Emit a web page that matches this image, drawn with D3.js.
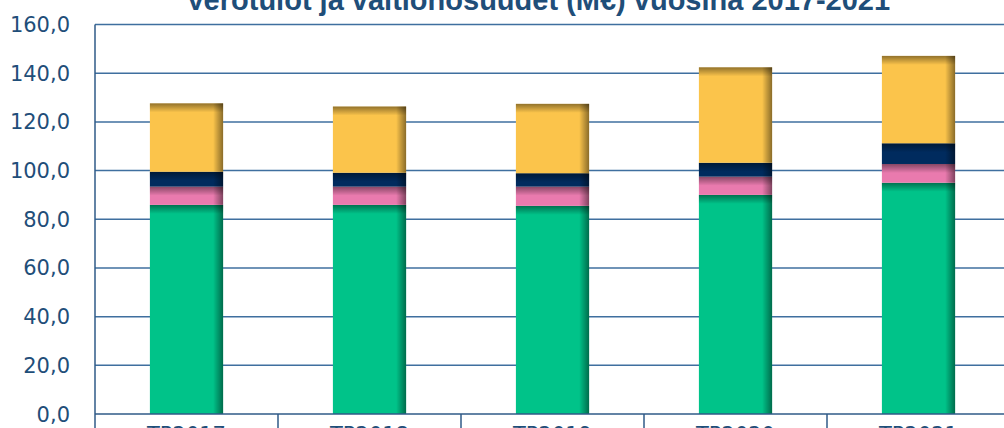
<!DOCTYPE html>
<html>
<head>
<meta charset="utf-8">
<script src="https://cdn.jsdelivr.net/npm/d3@7"></script>
<style>
  body { margin: 0; background: #fff; }
  svg { display: block; }
</style>
</head>
<body>
<div id="chart"></div>
<script>
// data
var years    = ["TP2017", "TP2018", "TP2019", "TP2020", "TP2021"];
var keys     = ["kunnallisvero", "yhteisovero", "kiinteistovero", "valtionosuudet"];
var kunnallisvero  = [85.9, 85.9, 85.5, 90.0, 95.0];
var yhteisovero    = [7.5, 7.5, 7.9, 7.5, 7.7];
var kiinteistovero = [6.1, 5.7, 5.5, 5.7, 8.5];
var valtionosuudet = [28.1, 27.2, 28.5, 39.2, 35.9];
var yTicks   = [0, 20, 40, 60, 80, 100, 120, 140, 160];
var colors   = ["#00c389", "#e97aae", "#002b5e", "#fbc44b"];

var rows = years.map(function (y, i) {
  return {
    year: y,
    kunnallisvero: kunnallisvero[i],
    yhteisovero: yhteisovero[i],
    kiinteistovero: kiinteistovero[i],
    valtionosuudet: valtionosuudet[i]
  };
});

var W = 1004, H = 428;
var plotLeft = 95, plotTop = 24.5, plotBottom = 414, step = 183;

var svg = d3.select("#chart").append("svg")
  .attr("width", W)
  .attr("height", H);

var defs = svg.append("defs");
var gTop = defs.append("linearGradient").attr("id", "shadeTop")
  .attr("x1", 0).attr("y1", 0).attr("x2", 0).attr("y2", 1);
gTop.append("stop").attr("offset", "0%").attr("stop-color", "#000").attr("stop-opacity", 0.42);
gTop.append("stop").attr("offset", "100%").attr("stop-color", "#000").attr("stop-opacity", 0);
var gRight = defs.append("linearGradient").attr("id", "shadeRight")
  .attr("x1", 0).attr("y1", 0).attr("x2", 1).attr("y2", 0);
gRight.append("stop").attr("offset", "0%").attr("stop-color", "#000").attr("stop-opacity", 0);
gRight.append("stop").attr("offset", "100%").attr("stop-color", "#000").attr("stop-opacity", 0.45);

var x = d3.scaleBand()
  .domain(years)
  .range([plotLeft, plotLeft + step * years.length])
  .paddingInner(0.6)
  .paddingOuter(0.3);

var y = d3.scaleLinear()
  .domain([0, 160])
  .range([plotBottom, plotTop]);

// gridlines
svg.append("g")
  .selectAll("line")
  .data(yTicks.filter(function (d) { return d > 0; }))
  .enter()
  .append("line")
  .attr("x1", plotLeft).attr("x2", W)
  .attr("y1", function (d) { return y(d); })
  .attr("y2", function (d) { return y(d); })
  .attr("stroke", "#3f6f9f")
  .attr("stroke-width", 1.5);

// y tick labels
svg.append("g")
  .selectAll("text")
  .data(yTicks)
  .enter()
  .append("text")
  .attr("x", 70)
  .attr("y", function (d) { return y(d); })
  .attr("dy", "0.36em")
  .attr("text-anchor", "end")
  .style("font-family", "DejaVu Sans")
  .style("font-size", "21px")
  .style("fill", "#1f4e79")
  .text(function (d) { return d.toFixed(1).replace(".", ","); });

// stacked bars
var stack = d3.stack().keys(keys)(rows);

var layers = svg.append("g")
  .selectAll("g")
  .data(stack)
  .enter()
  .append("g");

var seg = layers.selectAll("g")
  .data(function (d, i) { return d.map(function (p) { return { p: p, c: colors[i] }; }); })
  .enter()
  .append("g");

seg.append("rect")
  .attr("x", function (d) { return x(d.p.data.year); })
  .attr("y", function (d) { return y(d.p[1]); })
  .attr("width", x.bandwidth())
  .attr("height", function (d) { return y(d.p[0]) - y(d.p[1]); })
  .attr("fill", function (d) { return d.c; });

seg.append("rect")
  .attr("x", function (d) { return x(d.p.data.year); })
  .attr("y", function (d) { return y(d.p[1]); })
  .attr("width", x.bandwidth())
  .attr("height", function (d) { return Math.min(9, y(d.p[0]) - y(d.p[1])); })
  .attr("fill", "url(#shadeTop)");

seg.append("rect")
  .attr("x", function (d) { return x(d.p.data.year) + x.bandwidth() - 10; })
  .attr("y", function (d) { return y(d.p[1]); })
  .attr("width", 10)
  .attr("height", function (d) { return y(d.p[0]) - y(d.p[1]); })
  .attr("fill", "url(#shadeRight)");

// axes
svg.append("line")
  .attr("x1", plotLeft).attr("x2", plotLeft)
  .attr("y1", plotTop).attr("y2", H)
  .attr("stroke", "#2f5a87").attr("stroke-width", 1.5);

svg.append("line")
  .attr("x1", plotLeft).attr("x2", W)
  .attr("y1", plotBottom).attr("y2", plotBottom)
  .attr("stroke", "#2f5a87").attr("stroke-width", 1.5);

svg.append("g")
  .selectAll("line")
  .data(years.slice(1))
  .enter()
  .append("line")
  .attr("x1", function (d) { return x(d) - x.step() * 0.3; })
  .attr("x2", function (d) { return x(d) - x.step() * 0.3; })
  .attr("y1", plotBottom).attr("y2", H)
  .attr("stroke", "#2f5a87").attr("stroke-width", 1.5);

// x labels
svg.append("g")
  .selectAll("text")
  .data(years)
  .enter()
  .append("text")
  .attr("x", function (d) { return x(d) + x.bandwidth() / 2; })
  .attr("y", 442)
  .attr("text-anchor", "middle")
  .style("font-family", "DejaVu Sans")
  .style("font-size", "21px")
  .style("fill", "#1f4e79")
  .text(function (d) { return d; });

// title (cut off at the top like the original)
svg.append("text")
  .attr("x", 538)
  .attr("y", 10)
  .attr("text-anchor", "middle")
  .style("font-family", "Liberation Sans")
  .style("font-weight", "bold")
  .style("font-size", "29px")
  .style("fill", "#1f4e79")
  .text("Verotulot ja valtionosuudet  (M€) vuosina 2017-2021");
</script>
</body>
</html>
